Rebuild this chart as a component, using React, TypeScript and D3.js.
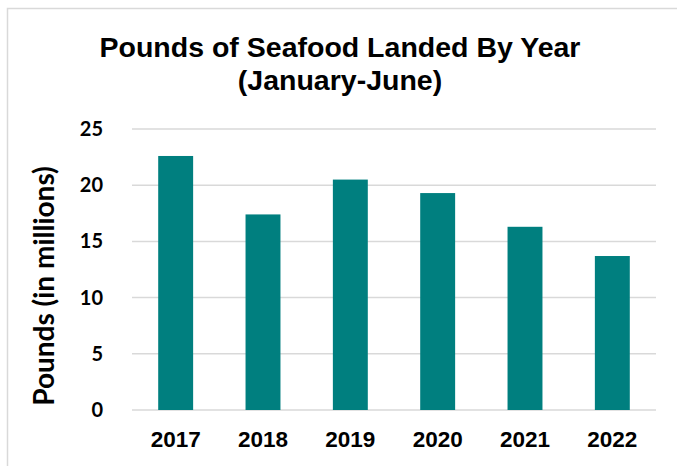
import React from "react";
import * as d3 from "d3";

const years = ["2017", "2018", "2019", "2020", "2021", "2022"];
const pounds = [22.6, 17.4, 20.5, 19.3, 16.3, 13.7];
const yTicks = [0, 5, 10, 15, 20, 25];
const titleLines = ["Pounds of Seafood Landed By Year", "(January-June)"];
const yLabel = "Pounds (in millions)";

export default function App() {
  const W = 677, H = 466;
  const left = 132, right = 656, top = 129, bottom = 410;
  const x = d3.scaleBand<string>().domain(years).range([left, right]).paddingInner(0.6).paddingOuter(0.3);
  const y = d3.scaleLinear().domain([0, 25]).range([bottom, top]);
  return (
    <svg width={W} height={H} style={{ position: "fixed", left: 0, top: 0, background: "#fff" }}>
      <rect x={7.5} y={8.5} width={700} height={500} fill="#fff" stroke="#d9d9d9" strokeWidth={1.5} />
      <g fontFamily="'Liberation Sans', Arial, sans-serif" fontWeight="bold" fontSize={28.5} textAnchor="middle" fill="#000">
        <text x={340} y={57}>{titleLines[0]}</text>
        <text x={340} y={90}>{titleLines[1]}</text>
      </g>
      {yTicks.map((t) => (
        <line key={t} x1={left} x2={right} y1={y(t)} y2={y(t)} stroke="#d9d9d9" strokeWidth={1.5} />
      ))}
      {years.map((yr, i) => (
        <rect key={yr} x={x(yr)} y={y(pounds[i])} width={x.bandwidth()} height={y(0) - y(pounds[i])} fill="#007f7f" />
      ))}
      <g fontFamily="Lato, 'Noto Sans', sans-serif" fontWeight="bold" fontSize={20} textAnchor="end" fill="#000">
        {yTicks.map((t) => (
          <text key={t} x={103} y={y(t) + 7}>{t}</text>
        ))}
      </g>
      <text
        transform={`translate(54, 286) rotate(-90)`}
        fontFamily="Lato, 'Noto Sans', sans-serif" fontWeight="bold" fontSize={28} textAnchor="middle" fill="#000"
      >{yLabel}</text>
      <g fontFamily="'Liberation Sans', Arial, sans-serif" fontWeight="bold" fontSize={22.5} textAnchor="middle" fill="#000">
        {years.map((yr) => (
          <text key={yr} x={(x(yr) as number) + x.bandwidth() / 2} y={447}>{yr}</text>
        ))}
      </g>
    </svg>
  );
}
